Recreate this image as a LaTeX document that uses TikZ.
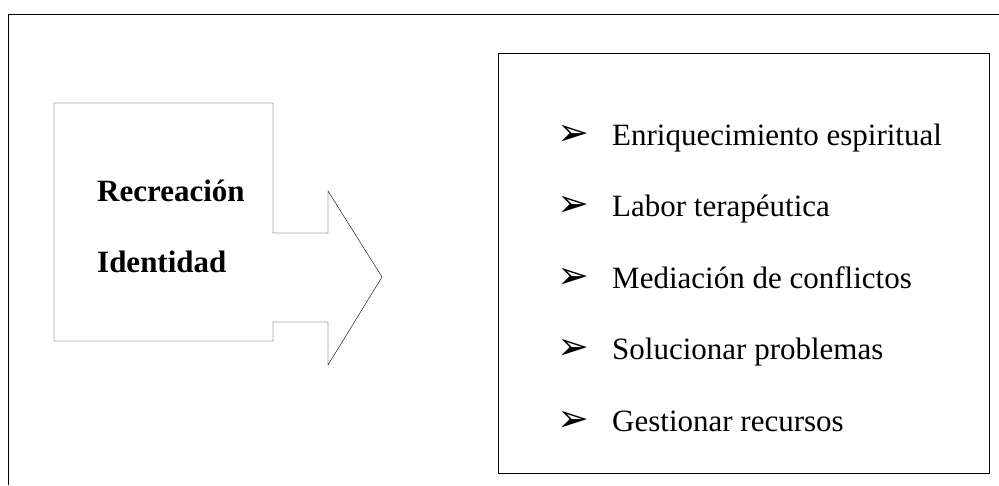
\documentclass[tikz,border=0pt]{standalone}
\usepackage{fontspec}
\setmainfont{Liberation Serif}
\newfontfamily\dingfont{DejaVu Sans Bold}
\usepackage{tikz}
\usetikzlibrary{positioning}
\tikzset{
	line width=2.2pt,
	heading/.style={inner sep=0pt, anchor=base west, font=\fontsize{31}{36}\selectfont\bfseries},
	item/.style={inner sep=0pt, anchor=base west, font=\fontsize{31}{36}\selectfont},
	bulletmark/.style={inner sep=0pt, font=\dingfont\fontsize{38}{40}\selectfont},
	listbox/.style={draw, inner sep=0pt, minimum width=491pt, minimum height=420pt},
}

\begin{document}
\begin{tikzpicture}[x=1pt, y=-1pt]
	\useasboundingbox (0,0) rectangle (999,485);
	\draw (8,485) -- (8,14) -- (999,14);
	
	% box with the arrow
	\draw (54,103) -- (273,103) -- (273,233) -- (328,233) -- (328,191) -- (382,277)
		-- (328,365) -- (328,322) -- (273,322) -- (273,341) -- (54,341) -- cycle;
	\node[heading] (rec) at (97,201) {Recreación};
	\node[heading] (ide) at (97,272) {Identidad};
	
	\node[listbox] (list) at (743.5,263) {};
	\foreach \txt [count=\i] in {Enriquecimiento espiritual, Labor terapéutica,
		Mediación de conflictos, Solucionar problemas, Gestionar recursos} {
		\node[item] (item\i) at (612,145+71.5*\i-71.5) {\txt};
		\node[bulletmark, base left=22pt of item\i] (bul\i) {➢};
	}
\end{tikzpicture}
\end{document}
